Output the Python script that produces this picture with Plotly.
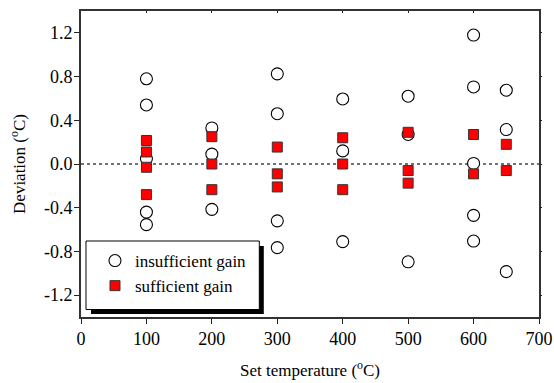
import plotly.graph_objects as go

# Data
ins_x = [100, 100, 100, 100, 100,
         200, 200, 200,
         300, 300, 300, 300,
         400, 400, 400,
         500, 500, 500,
         600, 600, 600, 600, 600,
         650, 650, 650]
ins_y = [0.78, 0.54, 0.05, -0.44, -0.555,
         0.33, 0.09, -0.415,
         0.825, 0.46, -0.52, -0.765,
         0.595, 0.12, -0.71,
         0.62, 0.27, -0.895,
         1.18, 0.705, 0.005, -0.47, -0.705,
         0.675, 0.315, -0.985]

suf_x = [100, 100, 100, 100,
         200, 200, 200,
         300, 300, 300,
         400, 400, 400,
         500, 500, 500,
         600, 600,
         650, 650]
suf_y = [0.215, 0.11, -0.03, -0.28,
         0.25, 0.0, -0.235,
         0.155, -0.09, -0.21,
         0.24, 0.0, -0.235,
         0.29, -0.06, -0.175,
         0.27, -0.09,
         0.18, -0.06]

x_ticks = [0, 100, 200, 300, 400, 500, 600, 700]
y_ticks = [-1.2, -0.8, -0.4, 0.0, 0.4, 0.8, 1.2]
y_tick_text = ["-1.2", "-0.8", "-0.4", "0.0", "0.4", "0.8", "1.2"]

FONT = "Liberation Serif, Times New Roman, DejaVu Serif, serif"
W, H = 554, 383
L, R, T, B = 81, 14.5, 11, 66
PW, PH = W - L - R, H - T - B


def px_x(px):
    return (px - L) / PW


def px_y(py):
    return (H - B - py) / PH


fig = go.Figure()
fig.add_trace(go.Scatter(
    x=ins_x, y=ins_y, mode="markers", name="insufficient gain",
    marker=dict(symbol="circle", size=12, color="white",
                line=dict(color="black", width=1.1)),
))
fig.add_trace(go.Scatter(
    x=suf_x, y=suf_y, mode="markers", name="sufficient gain",
    marker=dict(symbol="square", size=10, color="#ff0000",
                line=dict(color="#333333", width=1)),
))
# invisible trace to activate the mirrored tick axes
fig.add_trace(go.Scatter(x=[None], y=[None], xaxis="x2", yaxis="y2",
                         showlegend=False, hoverinfo="skip"))

shapes = [
    dict(type="line", xref="paper", yref="y", x0=0, x1=1, y0=0, y1=0,
         line=dict(color="#444444", width=1.3, dash="dot"), layer="below"),
    dict(type="rect", xref="paper", yref="paper",
         x0=px_x(91), x1=px_x(264), y0=px_y(314), y1=px_y(246),
         fillcolor="black", line=dict(width=0), layer="above"),
    dict(type="rect", xref="paper", yref="paper",
         x0=px_x(86), x1=px_x(259.5), y0=px_y(309.5), y1=px_y(241),
         fillcolor="white", line=dict(color="black", width=1), layer="above"),
]

axis_common = dict(showgrid=False, zeroline=False, automargin=False)

fig.update_layout(
    width=W, height=H,
    margin=dict(l=L, r=R, t=T, b=B, autoexpand=False),
    paper_bgcolor="white", plot_bgcolor="white",
    font=dict(family=FONT, size=17, color="black"),
    showlegend=True,
    legend=dict(x=px_x(95), y=px_y(243), xanchor="left", yanchor="top",
                bgcolor="rgba(0,0,0,0)", borderwidth=0,
                font=dict(family=FONT, size=17), itemwidth=30,
                tracegroupgap=0),
    shapes=shapes,
    xaxis=dict(range=[0, 700], tickvals=x_ticks, ticks="outside", ticklen=5,
               tickwidth=1.2, tickcolor="#222", showline=True, linecolor="#333",
               linewidth=1.6, mirror=True,
               tickfont=dict(family=FONT, size=18),
               title=dict(text="Set temperature (<sup>o</sup>C)",
                          font=dict(family=FONT, size=17), standoff=16),
               **axis_common),
    yaxis=dict(range=[-1.4, 1.4], tickvals=y_ticks, ticktext=y_tick_text,
               ticks="outside", ticklen=5, tickwidth=1.2, tickcolor="#222",
               showline=True, linecolor="#333", linewidth=1.6, mirror=True,
               ticklabelstandoff=-2,
               tickfont=dict(family=FONT, size=18),
               title=dict(text="Deviation (<sup>o</sup>C)",
                          font=dict(family=FONT, size=17), standoff=14),
               **axis_common),
    xaxis2=dict(range=[0, 700], tickvals=x_ticks, overlaying="x", side="top",
                ticks="inside", ticklen=2, tickcolor="#222", showticklabels=False,
                showline=False, **axis_common),
    yaxis2=dict(range=[-1.4, 1.4], tickvals=y_ticks, overlaying="y", side="right",
                ticks="outside", ticklen=2, tickcolor="#222", showticklabels=False,
                showline=False, **axis_common),
)

fig.write_html("out.html")
